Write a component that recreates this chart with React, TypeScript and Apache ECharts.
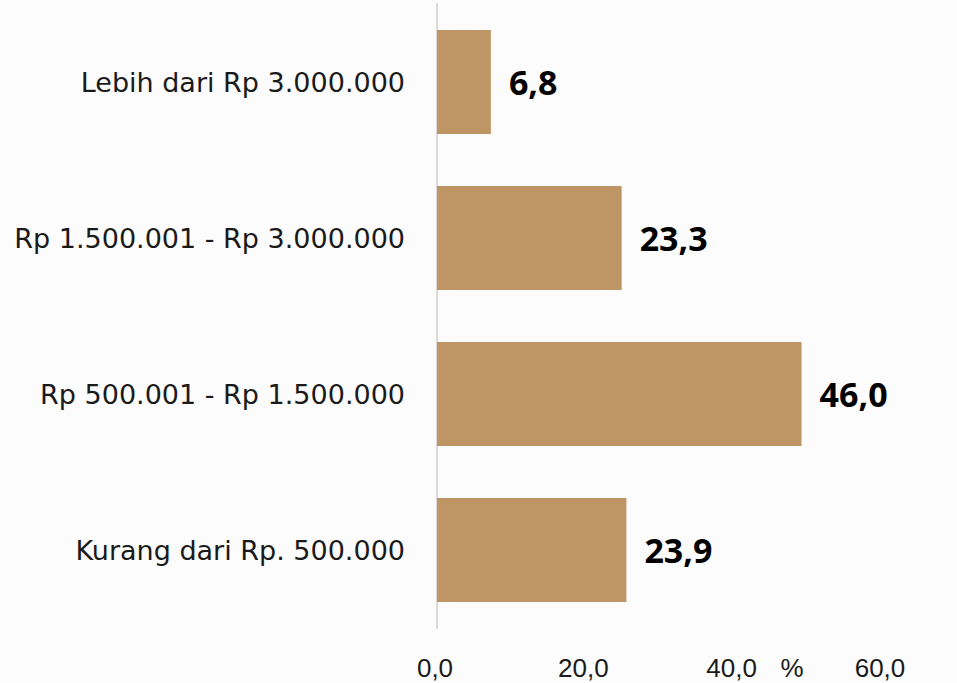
import React, { useEffect, useRef } from "react";
import * as echarts from "echarts";

const categories = [
  "Lebih dari Rp 3.000.000",
  "Rp 1.500.001 - Rp 3.000.000",
  "Rp 500.001 - Rp 1.500.000",
  "Kurang dari Rp. 500.000",
];
const values = [6.8, 23.3, 46.0, 23.9];
const tickValues = { min: 0, max: 60, interval: 20 };
const unitLabel = "%";

const fmt = (v: number) => v.toFixed(1).replace(".", ",");

export default function App() {
  const ref = useRef<HTMLDivElement>(null);
  useEffect(() => {
    if (!ref.current) return;
    const chart = echarts.init(ref.current, undefined, { renderer: "svg" });
    chart.setOption({
      animation: false,
      backgroundColor: "#FCFCFC",
      grid: [
        { left: 437, right: 44.5, top: 4, bottom: 55, containLabel: false },
        { left: 435, right: 77, top: 4, bottom: 55, containLabel: false },
      ],
      xAxis: [
        {
          gridIndex: 0,
          type: "value",
          min: tickValues.min,
          max: tickValues.max,
          interval: tickValues.interval,
          axisLine: { show: false },
          axisTick: { show: false },
          axisLabel: { show: false },
          splitLine: { show: false },
        },
        {
          gridIndex: 1,
          type: "value",
          min: tickValues.min,
          max: tickValues.max,
          interval: tickValues.interval,
          axisLine: { show: false },
          axisTick: { show: false },
          splitLine: { show: false },
          axisLabel: {
            margin: 27,
            fontFamily: "Liberation Sans",
            fontSize: 26,
            color: "#1a1a1a",
            formatter: (v: number) => fmt(v),
          },
        },
      ],
      yAxis: [
        {
          gridIndex: 0,
          type: "category",
          data: categories,
          inverse: true,
          axisLine: { show: true, lineStyle: { color: "#d9d9d9", width: 2 } },
          axisTick: { show: false },
          axisLabel: {
            margin: 32,
            fontFamily: "DejaVu Sans",
            fontSize: 27,
            color: "#1a1a1a",
          },
        },
        {
          gridIndex: 1,
          type: "category",
          data: categories,
          show: false,
        },
      ],
      graphic: [
        {
          type: "text",
          x: 792,
          y: 668,
          style: {
            text: unitLabel,
            fontFamily: "Liberation Sans",
            fontSize: 26,
            fill: "#1a1a1a",
            align: "center",
            verticalAlign: "middle",
          },
        },
      ],
      series: [
        {
          type: "bar",
          xAxisIndex: 0,
          yAxisIndex: 0,
          data: values,
          barCategoryGap: "33.3%",
          itemStyle: { color: "#C09566" },
          label: {
            show: true,
            position: "right",
            distance: 18,
            fontFamily: "Noto Sans",
            fontWeight: "bold",
            fontSize: 34,
            color: "#000",
            formatter: (p: any) => fmt(p.value),
          },
        },
      ],
    });
    return () => chart.dispose();
  }, []);
  return (
    <div
      ref={ref}
      style={{ position: "fixed", left: 0, top: 0, width: 957, height: 683 }}
    />
  );
}
